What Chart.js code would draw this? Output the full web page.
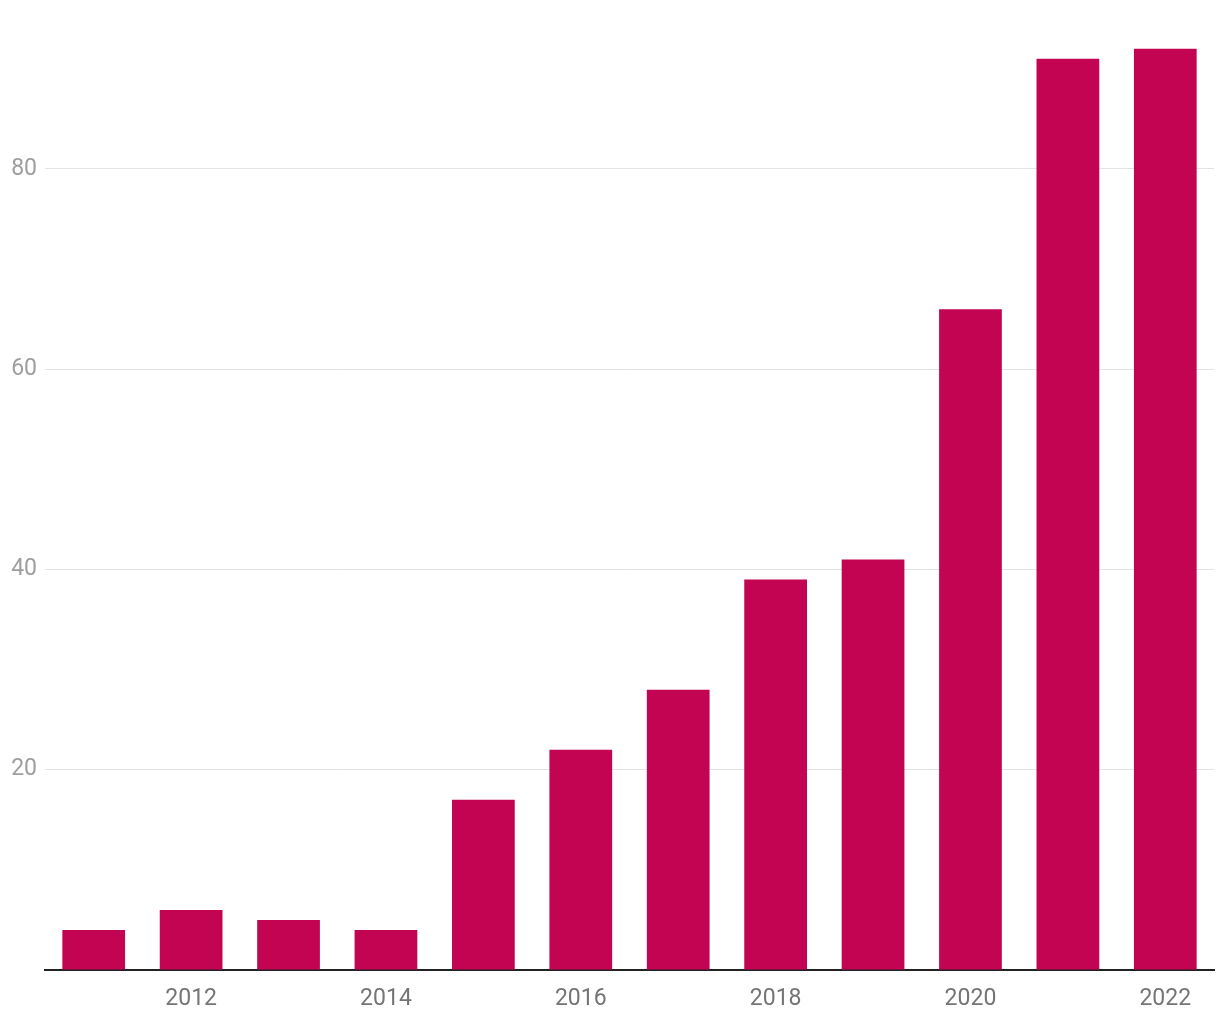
<!DOCTYPE html>
<html>
<head>
<meta charset="utf-8">
<script src="https://cdn.jsdelivr.net/npm/chart.js@4/dist/chart.umd.min.js"></script>
<style>
html,body{margin:0;padding:0;background:#fff;}
#wrap{width:1220px;height:1020px;}
</style>
</head>
<body>
<div id="wrap"><canvas id="c" width="1220" height="1020"></canvas></div>
<script>
const years = ['2011','2012','2013','2014','2015','2016','2017','2018','2019','2020','2021','2022'];
const values = [4, 6, 5, 4, 17, 22, 28, 39, 41, 66, 91, 92];
const yTicks = [0, 20, 40, 60, 80];

Chart.defaults.font.family = 'Roboto, "Noto Sans", sans-serif';
new Chart(document.getElementById('c'), {
  type: 'bar',
  data: {
    labels: years,
    datasets: [{
      data: values,
      backgroundColor: '#c20452',
      borderWidth: 0,
      categoryPercentage: 1,
      barPercentage: 0.644
    }]
  },
  options: {
    responsive: false,
    animation: false,
    layout: { padding: { top: 6, right: 6, left: 0, bottom: 0 } },
    plugins: { legend: { display: false }, tooltip: { enabled: false } },
    scales: {
      x: {
        grid: { display: false },
        border: { display: true, color: '#222', width: 2 },
        ticks: {
          autoSkip: false,
          maxRotation: 0,
          padding: 7,
          color: '#757575',
          font: { size: 23 },
          callback: function(v, i) { return (i % 2 === 1) ? years[i] : ''; }
        },
        afterFit: function(s) { s.height = 50; }
      },
      y: {
        min: 0,
        max: 94.7,
        afterBuildTicks: function(s) { s.ticks = yTicks.map(v => ({ value: v })); },
        grid: {
          drawTicks: false,
          color: function(ctx) { return ctx.tick && ctx.tick.value === 0 ? 'rgba(0,0,0,0)' : '#e3e3e3'; },
          lineWidth: 1
        },
        border: { display: false },
        ticks: {
          padding: 8,
          color: '#9e9e9e',
          font: { size: 23 },
          callback: function(v) { return v === 0 ? '' : v; }
        },
        afterFit: function(s) { s.width = 45; }
      }
    }
  }
});
</script>
</body>
</html>
